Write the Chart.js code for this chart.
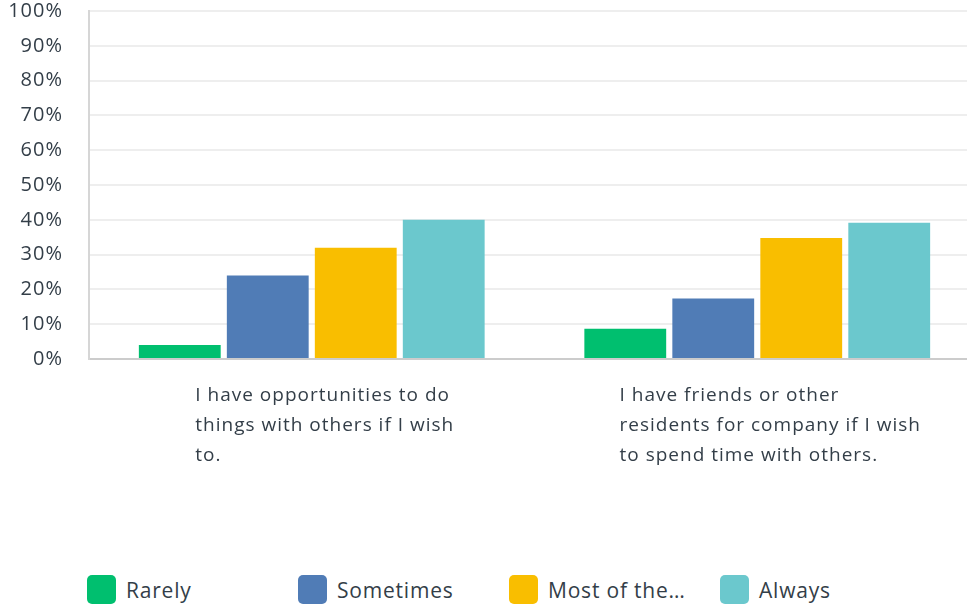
<!DOCTYPE html>
<html>
<head>
<meta charset="utf-8">
<script src="https://cdn.jsdelivr.net/npm/chart.js@4.4.1/dist/chart.umd.min.js"></script>
<style>
    html, body { margin: 0; padding: 0; background: #fff; overflow: hidden; width: 967px; height: 605px; }
    #wrap { position: absolute; left: 0; top: 0; width: 980px; height: 547px; }
    #legend { position: absolute; left: 0; top: 575px; width: 967px; height: 30px; font-family: 'Open Sans', sans-serif; font-size: 21px; letter-spacing: 0.8px; color: #333e48; }
    .item { position: absolute; top: 0; height: 29px; display: flex; align-items: center; }
    .box { width: 29px; height: 29px; border-radius: 5px; margin-right: 10px; }
</style>
</head>
<body>
<div id="wrap"><canvas id="chart"></canvas></div>
<div id="legend"></div>
<script>
// question labels, already wrapped the way the survey tool wraps them
const categories = [
    ['I have opportunities to do', 'things with others if I wish', 'to.'],
    ['I have friends or other', 'residents for company if I wish', 'to spend time with others.'],
]
const seriesNames = ['Rarely', 'Sometimes', 'Most of the…', 'Always']
const rarely = [4, 8.7]
const sometimes = [24, 17.39]
const mostOfTheTime = [32, 34.78]
const always = [40, 39.13]
const yTicks = [0, 10, 20, 30, 40, 50, 60, 70, 80, 90, 100]

const colors = ['#00bf6f', '#507cb6', '#f9be00', '#6bc8cd']
const textColor = '#333e48'
const font = "'Open Sans', sans-serif"

// the survey font is widely spaced, canvas state gets reset on resize so set it each time
const spacing = {
    id: 'spacing',
    beforeLayout(chart) { chart.ctx.letterSpacing = '1px' },
    beforeDraw(chart) { chart.ctx.letterSpacing = '1px' },
}

// draws the wrapped x labels, lines left aligned, block centred under the group
const xLabels = {
    id: 'xLabels',
    afterDraw(chart) {
        const { ctx, scales, chartArea } = chart
        ctx.save()
        ctx.font = `19px ${font}`
        ctx.letterSpacing = '1px'
        ctx.fillStyle = textColor
        ctx.textAlign = 'left'
        ctx.textBaseline = 'middle'
        categories.forEach((lines, i) => {
            const px = scales.x.getPixelForValue(i)
            const w = Math.max(...lines.map(l => ctx.measureText(l).width))
            const left = px - w / 2 + 13
            lines.forEach((l, k) => ctx.fillText(l, left, chartArea.bottom + 37 + k * 30))
        })
        ctx.restore()
    },
}

const datasets = [rarely, sometimes, mostOfTheTime, always].map((data, i) => ({
    label: seriesNames[i],
    data,
    backgroundColor: colors[i],
    borderWidth: 0,
    categoryPercentage: 0.79,
    barPercentage: 0.93,
}))

new Chart(document.getElementById('chart'), {
    type: 'bar',
    data: { labels: categories.map(c => c.join(' ')), datasets },
    plugins: [spacing, xLabels],
    options: {
        responsive: true,
        maintainAspectRatio: false,
        animation: false,
        layout: { padding: { left: 0, right: 0, top: 0, bottom: 180 } },
        plugins: { legend: { display: false }, tooltip: { enabled: false } },
        scales: {
            x: {
                grid: { display: false },
                border: { color: '#cccccc', width: 2 },
                ticks: { display: false },
            },
            y: {
                min: 0,
                max: 100,
                afterBuildTicks: axis => { axis.ticks = yTicks.map(value => ({ value })) },
                afterFit: axis => {
                    axis.width = 89
                    axis.paddingTop = 11
                    axis.paddingBottom = 0
                },
                grid: { color: '#eeeeee', lineWidth: 2, drawTicks: false },
                border: { color: '#d6d6d6', width: 2 },
                ticks: {
                    callback: v => v + '%',
                    color: textColor,
                    font: { family: font, size: 20 },
                    padding: 26,
                },
            },
        },
    },
})

// legend row below the chart
const legend = document.getElementById('legend')
seriesNames.forEach((name, i) => {
    const item = document.createElement('div')
    item.className = 'item'
    item.style.left = (87 + i * 211) + 'px'
    item.innerHTML = `<span class="box" style="background:${colors[i]}"></span><span>${name}</span>`
    legend.appendChild(item)
})
</script>
</body>
</html>
